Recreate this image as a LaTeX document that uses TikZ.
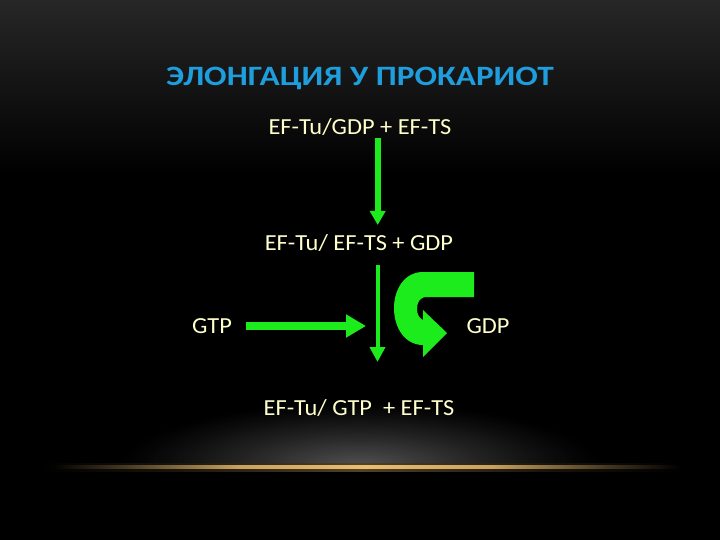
\documentclass[tikz,border=0pt]{standalone}
\usepackage{fontspec}
\setmainfont{Carlito}
\usetikzlibrary{arrows.meta}
\definecolor{titleblue}{RGB}{30,158,220}
\definecolor{txtyellow}{RGB}{255,255,204}
\definecolor{arrgreen}{RGB}{28,235,28}
\definecolor{bgtop}{RGB}{54,54,54}
\definecolor{glowgray}{RGB}{84,84,84}
\definecolor{gold}{RGB}{236,190,112}
\pgfdeclarehorizontalshading{goldline}{100bp}{color(0bp)=(black); color(25bp)=(black); color(31bp)=(gold!30!black); color(40bp)=(gold!85!black); color(50bp)=(gold); color(60bp)=(gold!85!black); color(69bp)=(gold!30!black); color(75bp)=(black); color(100bp)=(black)}
\pgfdeclarehorizontalshading{goldhalo}{100bp}{color(0bp)=(black); color(25bp)=(black); color(35bp)=(gold!10!black); color(50bp)=(gold!35!black); color(65bp)=(gold!10!black); color(75bp)=(black); color(100bp)=(black)}
\newcommand{\hstretch}[2]{\scalebox{#1}[1]{#2}}
\tikzset{
  lbl/.style={text=txtyellow, font=\fontsize{23}{25}\selectfont, inner sep=0pt, anchor=center},
  ttl/.style={text=titleblue, font=\bfseries\fontsize{28}{30}\selectfont, inner sep=0pt, anchor=center},
  garrow/.style={draw=arrgreen, line cap=butt}
}
\begin{document}
\begin{tikzpicture}[x=1pt,y=-1pt]
\useasboundingbox (0,0) rectangle (720,540);
\clip (0,0) rectangle (720,540);
% background
\fill[black] (0,0) rectangle (720,540);
\shade[top color=bgtop, bottom color=black] (0,-70) rectangle (720,175);
% bottom glow
\begin{scope}
  \clip (0,380) rectangle (720,467);
  \foreach \i in {0,...,40}{
    \pgfmathsetmacro{\r}{1-\i/40}
    \pgfmathsetmacro{\k}{100*(\i/40)^1.2}
    \fill[glowgray!\k!black] (360,467) ellipse [x radius={245*\r}, y radius={66*\r}];
  }
\end{scope}
\shade[shading=goldhalo] (40,463) rectangle (680,471);
\shade[shading=goldline] (50,465.5) rectangle (680,468.5);
% texts
\node[ttl] (title) at (360,78) {\hstretch{1.19}{ЭЛОНГАЦИЯ У ПРОКАРИОТ}};
\node[lbl] (t1) at (360,127) {\hstretch{1.06}{EF-Tu/GDP + EF-TS}};
\node[lbl] (t2) at (359,243) {\hstretch{1.06}{EF-Tu/ EF-TS + GDP}};
\node[lbl] (gtp) at (212,326) {\hstretch{1.06}{GTP}};
\node[lbl] (gdp) at (488,326) {\hstretch{1.06}{GDP}};
\node[lbl] (t3) at (359,408) {\hstretch{1.06}{EF-Tu/ GTP\ \ + EF-TS}};
% arrow coordinates
\coordinate (a1s) at (377.7,138);
\coordinate (a1e) at (377.7,225);
\coordinate (a2s) at (377.5,265);
\coordinate (a2e) at (377.5,362);
\coordinate (a3s) at (246,327);
\coordinate (a3e) at (366,327);
\draw[garrow, line width=6pt, -{Triangle[length=14pt,width=15pt]}] (a1s) -- (a1e);
\draw[garrow, line width=4pt, -{Triangle[length=15pt,width=15pt]}] (a2s) -- (a2e);
\draw[garrow, line width=8pt, -{Triangle[length=20pt,width=22pt]}] (gtp.east -| a3s) -- (gtp.east -| a3e);
% curved U-turn arrow
\fill[arrgreen] (474,272) -- (423,272)
  .. controls (404,272) and (394,290) .. (394,308)
  .. controls (394,328) and (405,345) .. (423,345)
  -- (423,357) -- (447,333) -- (423,310) -- (423,320)
  .. controls (419,318) and (417,314) .. (417,309)
  .. controls (417,302) and (420,297) .. (427,297)
  -- (474,297) -- cycle;
\end{tikzpicture}
\end{document}
